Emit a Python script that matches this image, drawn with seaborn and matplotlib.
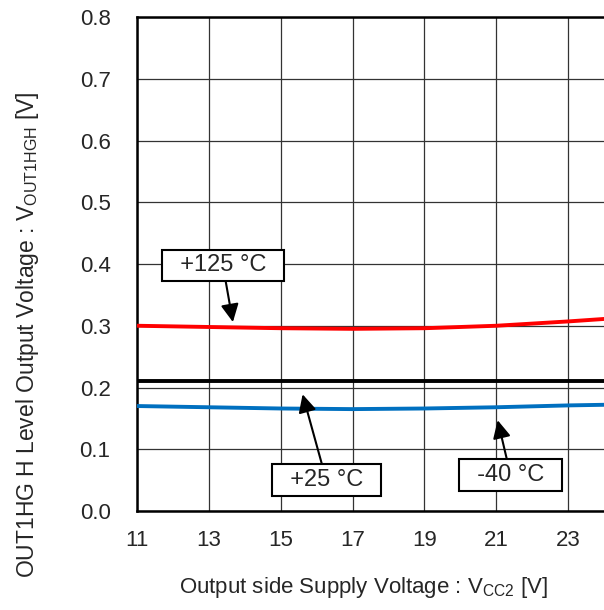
import pandas as pd
import matplotlib.pyplot as plt
import seaborn as sns

vcc2 = [11, 13, 15, 17, 19, 21, 23, 24]
v_125 = [0.300, 0.298, 0.296, 0.295, 0.296, 0.300, 0.307, 0.311]
v_25 = [0.210, 0.210, 0.210, 0.210, 0.210, 0.210, 0.210, 0.210]
v_m40 = [0.170, 0.168, 0.166, 0.165, 0.166, 0.168, 0.171, 0.172]
x_ticks = [11, 13, 15, 17, 19, 21, 23]
y_ticks = [0.0, 0.1, 0.2, 0.3, 0.4, 0.5, 0.6, 0.7, 0.8]

df = pd.DataFrame({'VCC2': vcc2 * 3,
                   'V': v_125 + v_25 + v_m40,
                   'Temp': ['+125 °C'] * len(vcc2) + ['+25 °C'] * len(vcc2) + ['-40 °C'] * len(vcc2)})

sns.set_style('white')
plt.rcParams['font.family'] = ['Liberation Sans', 'DejaVu Sans']
plt.rcParams['mathtext.fontset'] = 'custom'
plt.rcParams['mathtext.rm'] = 'Liberation Sans'
plt.rcParams['mathtext.it'] = 'Liberation Sans'

fig = plt.figure(figsize=(6.04, 6.10), dpi=100)
ax = fig.add_axes([0.2268, 0.1623, 0.7732, 0.8098])

palette = {'+125 °C': '#ff0000', '+25 °C': '#000000', '-40 °C': '#0070c0'}
sns.lineplot(data=df, x='VCC2', y='V', hue='Temp', palette=palette, linewidth=2.8,
             legend=False, ax=ax, zorder=3)

ax.set_xlim(11, 24)
ax.set_ylim(0, 0.8)
ax.set_xticks(x_ticks)
ax.set_yticks(y_ticks)
ax.set_yticklabels([f'{v:.1f}' for v in y_ticks])
ax.grid(True, color='#333333', linewidth=0.9)
ax.tick_params(labelsize=16, length=0)
ax.tick_params(axis='x', pad=14)
ax.tick_params(axis='y', pad=19)
for s in ['left', 'bottom', 'top']:
    ax.spines[s].set_linewidth(1.8)
    ax.spines[s].set_color('black')
ax.spines['right'].set_visible(False)

ax.set_xlabel('Output side Supply Voltage : V$_{\\mathrm{CC2}}$ [V]', fontsize=16)
ax.set_ylabel('OUT1HG H Level Output Voltage : V$_{\\mathrm{OUT1HGH}}$ [V]', fontsize=16.5)
ax.xaxis.set_label_coords(0.485, -0.13)
ax.yaxis.set_label_coords(-0.205, 0.356)

box = dict(boxstyle='square,pad=0.2', fc='white', ec='black', lw=1.5)
arrow = dict(arrowstyle='-|>', color='black', lw=1.5, mutation_scale=27, shrinkA=0, shrinkB=0)
ax.annotate('  +125 °C  ', xy=(13.67, 0.306), xytext=(13.39, 0.398), fontsize=17,
            ha='center', va='center', bbox=box, arrowprops=arrow, zorder=5)
ax.annotate('  +25 °C  ', xy=(15.61, 0.189), xytext=(16.27, 0.050), fontsize=17,
            ha='center', va='center', bbox=box, arrowprops=arrow, zorder=5)
ax.annotate('  -40 °C  ', xy=(21.04, 0.147), xytext=(21.40, 0.058), fontsize=17,
            ha='center', va='center', bbox=box, arrowprops=arrow, zorder=5)

plt.savefig('out.png', dpi=100)
